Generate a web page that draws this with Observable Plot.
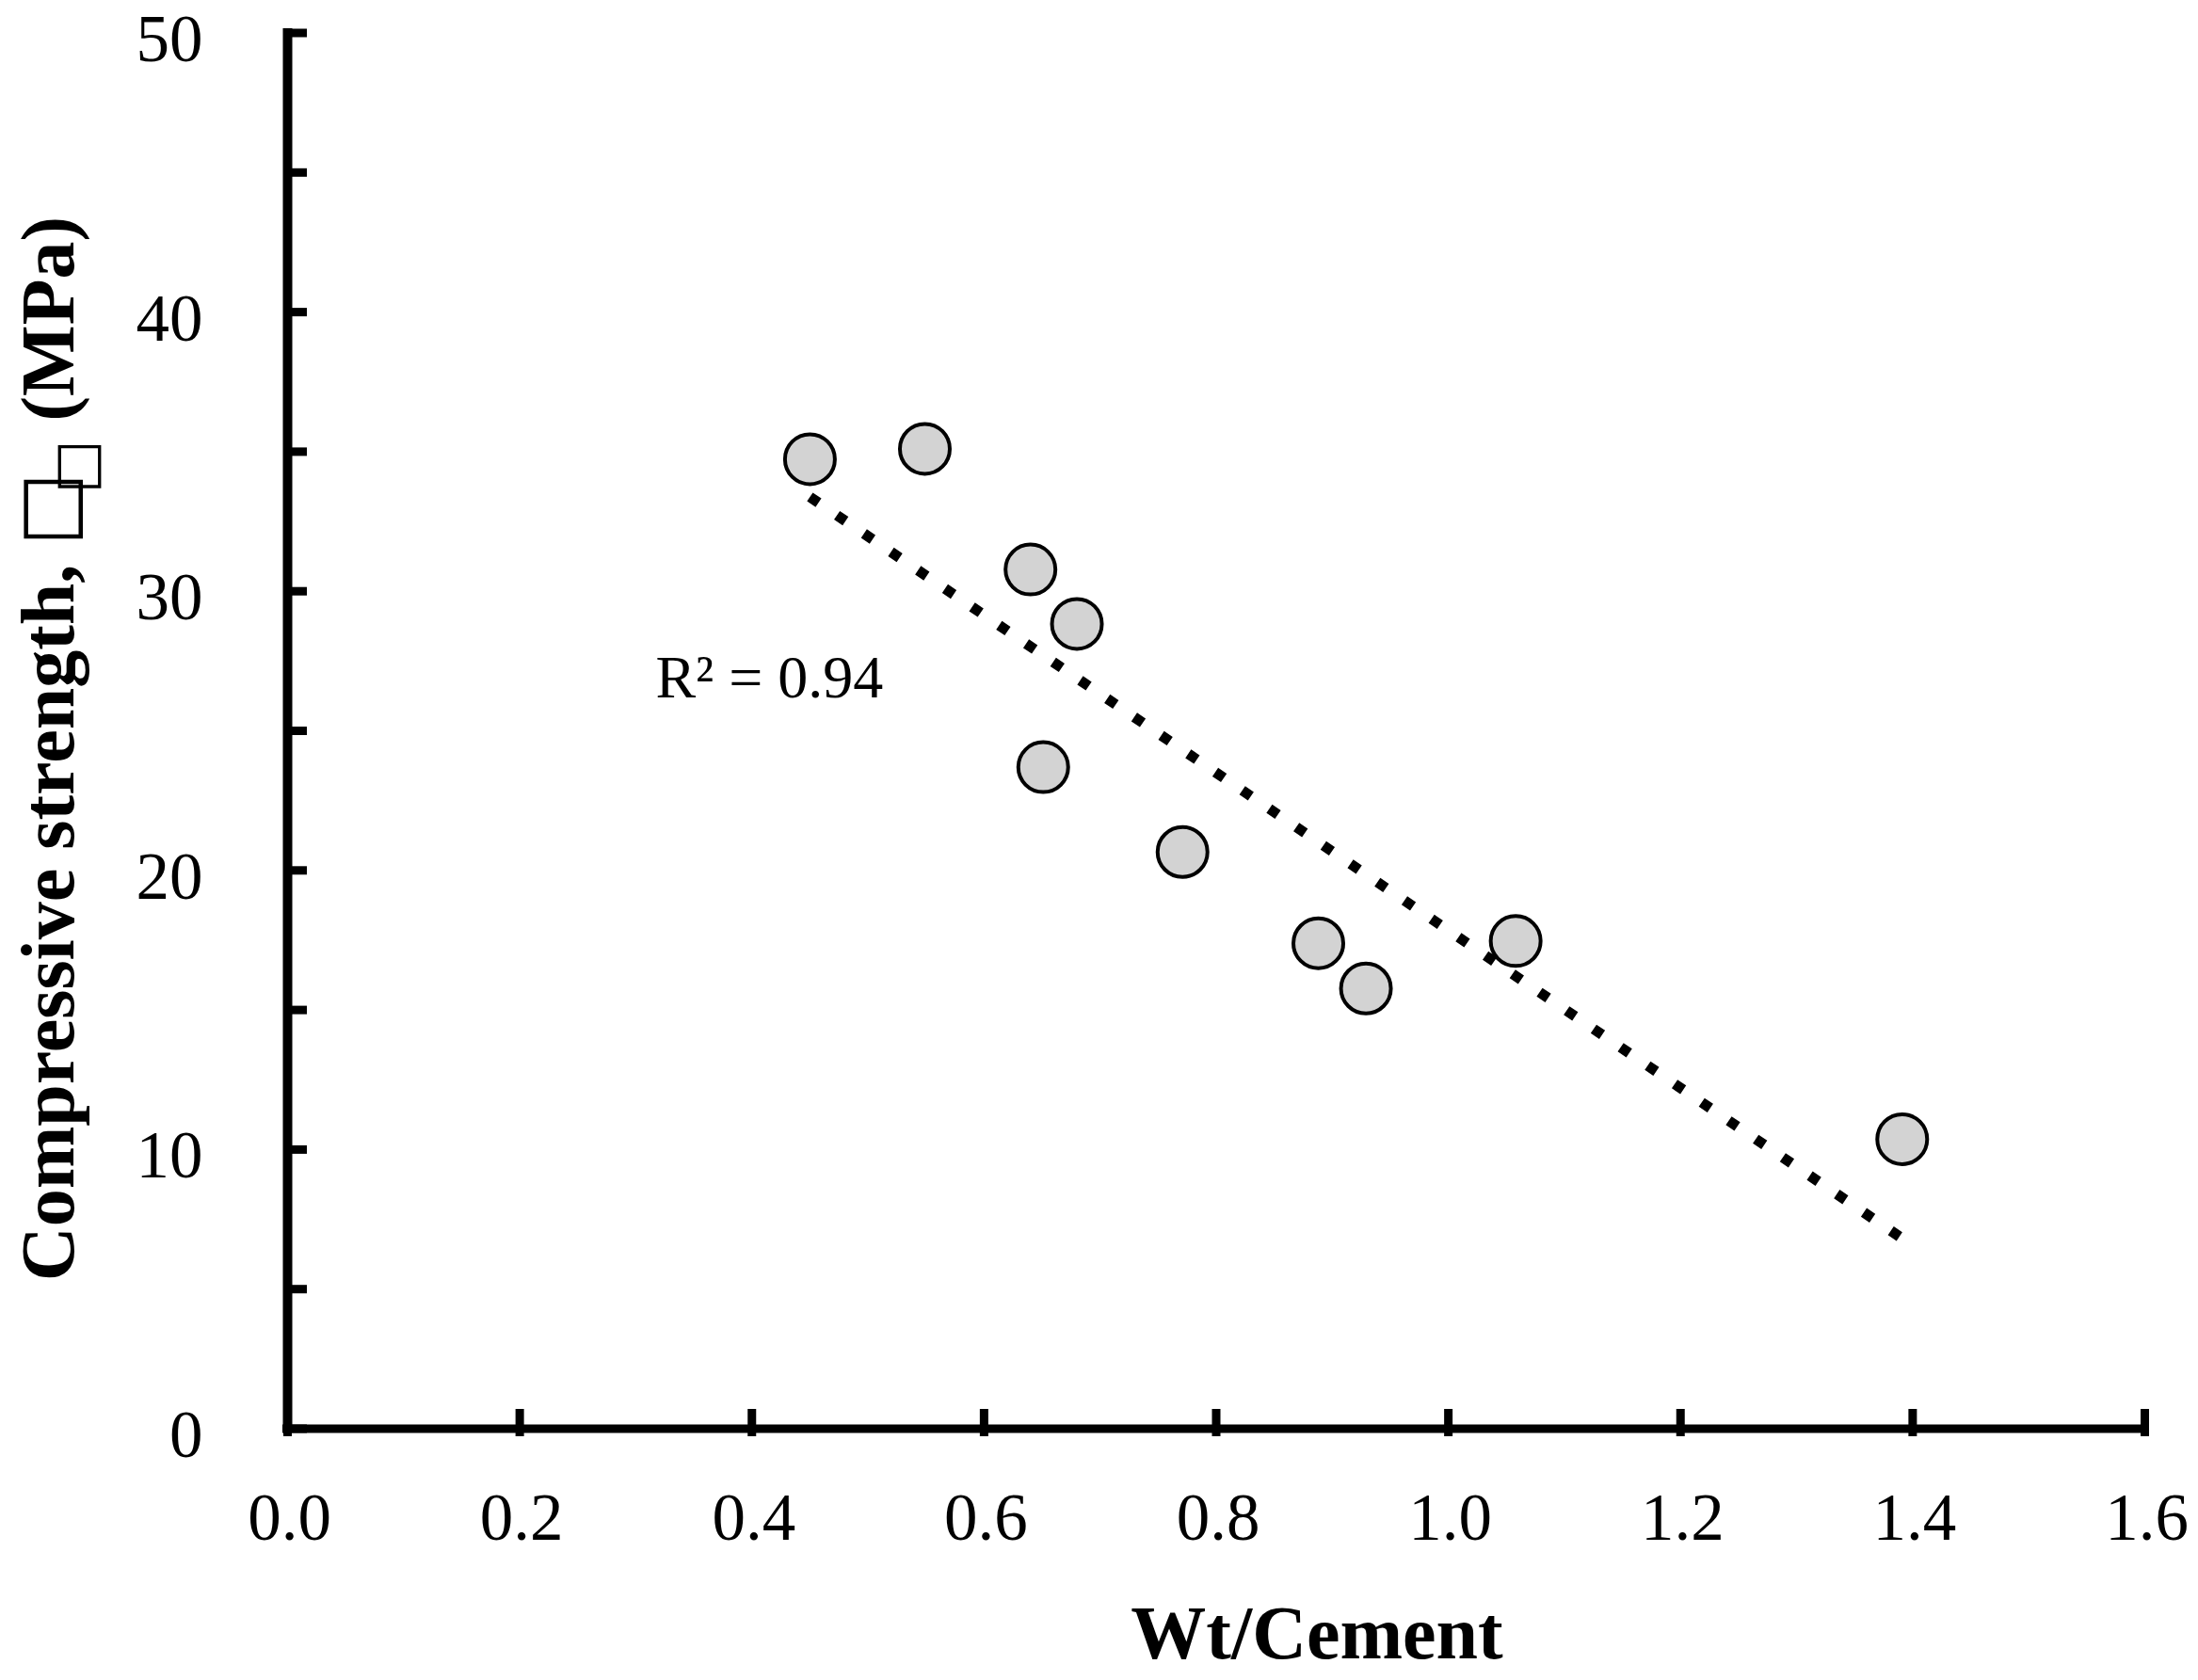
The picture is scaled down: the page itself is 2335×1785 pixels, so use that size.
<!DOCTYPE html>
<html>
<head>
<meta charset="utf-8">
<script src="https://cdn.jsdelivr.net/npm/d3@7"></script>
<script src="https://cdn.jsdelivr.net/npm/@observablehq/plot@0.6"></script>
<style>
  html, body { margin: 0; padding: 0; background: #fff; }
  #chart svg { display: block; }
</style>
</head>
<body>
<div id="chart"></div>
<script>
// Data
const wtCement = [0.45, 0.549, 0.64, 0.68, 0.651, 0.771, 0.888, 0.929, 1.058, 1.391];
const strength = [34.73, 35.10, 30.78, 28.83, 23.70, 20.66, 17.39, 15.77, 17.47, 10.37];
const xTicks = [0, 0.2, 0.4, 0.6, 0.8, 1.0, 1.2, 1.4, 1.6];
const yTicks = [0, 5, 10, 15, 20, 25, 30, 35, 40, 45, 50];
const yTickLabels = [0, 10, 20, 30, 40, 50];
const r2Label = "R\u00B2 = 0.94";
const r2Pos = [0.317, 26.2];

const points = wtCement.map((x, i) => ({x, y: strength[i]}));

const W = 2335, H = 1785;
const mL = 305, mR = 57, mT = 34.5, mB = 267.5;
const frameW = W - mL - mR, frameH = H - mT - mB;
const serif = "'Liberation Serif', 'Times New Roman', serif";

const plot = Plot.plot({
  width: W,
  height: H,
  marginLeft: mL,
  marginRight: mR,
  marginTop: mT,
  marginBottom: mB,
  style: {fontFamily: serif, background: "#fff", color: "#000"},
  x: {domain: [0, 1.6], axis: null},
  y: {domain: [0, 50], axis: null},
  marks: [
    // trend line
    Plot.linearRegressionY(points, {x: "x", y: "y", ci: 0, stroke: "#000", strokeWidth: 11, strokeDasharray: "11,23.7", strokeLinecap: "butt"}),
    // data points
    Plot.dot(points, {x: "x", y: "y", r: 26.5, fill: "#d3d3d3", stroke: "#000", strokeWidth: 4}),
    // y ticks (inward)
    Plot.tickY(yTicks, {y: d => d, stroke: "#000", strokeWidth: 9, insetRight: frameW - 21}),
    // x ticks (inward)
    Plot.tickX(xTicks, {x: d => d, stroke: "#000", strokeWidth: 9, insetTop: frameH - 20.5, insetBottom: -8.5}),
    // axis lines
    Plot.ruleX([0], {stroke: "#000", strokeWidth: 10, insetTop: -4.5, insetBottom: -4.5}),
    Plot.ruleY([0], {stroke: "#000", strokeWidth: 9, insetLeft: -5, insetRight: -4.5}),
    // tick labels
    Plot.text(yTickLabels, {y: d => d, frameAnchor: "left", text: d => String(d), textAnchor: "end", lineAnchor: "bottom", dx: -90, dy: 30, fontSize: 71, fill: "#000"}),
    Plot.text(xTicks, {x: d => d, frameAnchor: "bottom", text: d => d3.format(".1f")(d), textAnchor: "middle", lineAnchor: "bottom", dx: 2, dy: 117.5, fontSize: 71, fill: "#000"}),
    // R² annotation
    Plot.text([r2Label], {x: () => r2Pos[0], y: () => r2Pos[1], text: d => d, textAnchor: "start", lineAnchor: "bottom", fontSize: 64, fill: "#000"})
  ]
});

document.getElementById("chart").appendChild(plot);

const svg = d3.select(plot);
// x axis title
svg.append("text")
  .attr("x", 1399).attr("y", 1762)
  .attr("text-anchor", "middle")
  .attr("font-family", serif).attr("font-weight", "bold").attr("font-size", 80)
  .attr("fill", "#000")
  .text("Wt/Cement");

// y axis title (rotated)
const boxFont = "'DejaVu Sans'";
const yt = svg.append("text")
  .attr("transform", "translate(78,795.5) rotate(-90)")
  .attr("text-anchor", "middle")
  .attr("font-family", serif).attr("font-weight", "bold").attr("font-size", 80)
  .attr("fill", "#000");
yt.append("tspan").text("Compressive strength, ");
yt.append("tspan").attr("font-family", boxFont).attr("font-weight", "bold").attr("font-size", 82).text("\u25A1");
yt.append("tspan").attr("font-family", boxFont).attr("font-weight", "bold").attr("font-size", 60).attr("dx", -22).attr("dy", 22).text("\u25A1");
yt.append("tspan").attr("dy", -22).text(" (MPa)");
</script>
</body>
</html>
